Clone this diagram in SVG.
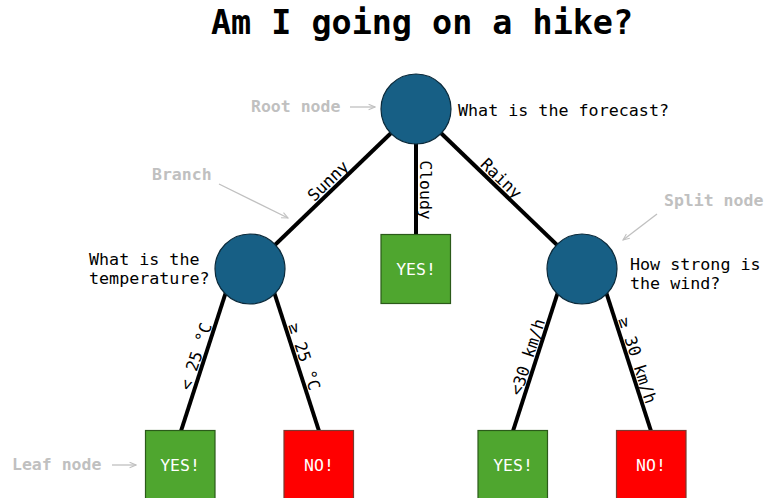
<svg xmlns="http://www.w3.org/2000/svg" width="765" height="498" viewBox="0 0 765 498">
  <style>
    text { font-family: "DejaVu Sans Mono", "Liberation Mono", monospace; }
    .title { font-size: 33.4px; font-weight: bold; fill: #000; }
    .q { font-size: 16.7px; fill: #000; }
    .edge-label { font-size: 16.5px; fill: #000; text-anchor: middle; }
    .note { font-size: 16.5px; font-weight: bold; fill: #c0c0c0; }
    .leaf-text { font-size: 16.5px; fill: #fff; text-anchor: middle; dominant-baseline: central; }
    .edge { stroke: #000; stroke-width: 4; fill: none; }
    .pointer { stroke: #c0c0c0; stroke-width: 1.3; fill: none; marker-end: url(#head); }
    .split { fill: #175f85; stroke: #0b2a3b; stroke-width: 1.2; }
    .yes { fill: #4fa62f; stroke: #2b5a1a; stroke-width: 1.2; }
    .no { fill: #ff0000; stroke: #7a3a30; stroke-width: 1.2; }
  </style>
  <defs>
    <marker id="head" viewBox="0 0 10 10" refX="9" refY="5" markerWidth="8" markerHeight="8" markerUnits="userSpaceOnUse" orient="auto">
      <path d="M1,1.5 L9,5 L1,8.5" fill="none" stroke="#c0c0c0" stroke-width="1.3"/>
    </marker>
  </defs>

  <rect width="765" height="498" fill="#fff"/>

  <text class="title" x="422" y="34" text-anchor="middle">Am I going on a hike?</text>

  <!-- connectors (lower branches start inside the split circles) -->
  <g id="connectors">
    <line class="edge" x1="416" y1="109" x2="250" y2="269"/>
    <line class="edge" x1="416" y1="109" x2="416" y2="235"/>
    <line class="edge" x1="416" y1="109" x2="582" y2="269"/>
    <line class="edge" x1="236.3" y1="260" x2="181" y2="431"/>
    <line class="edge" x1="263.7" y1="260" x2="319" y2="431"/>
    <line class="edge" x1="568.3" y1="260" x2="513" y2="431"/>
    <line class="edge" x1="595.7" y1="260" x2="651" y2="431"/>

    <text class="edge-label" transform="translate(332,185) rotate(-43.95)">Sunny</text>
    <text class="edge-label" transform="translate(420,190) rotate(90)">Cloudy</text>
    <text class="edge-label" transform="translate(497.3,182.6) rotate(43.95)">Rainy</text>
    <text class="edge-label" transform="translate(201.2,358.2) rotate(-71.97)">&lt; 25 °C</text>
    <text class="edge-label" transform="translate(298.9,358.4) rotate(71.97)">≥ 25 °C</text>
    <text class="edge-label" transform="translate(533.1,358.8) rotate(-71.97)">&lt;30 km/h</text>
    <text class="edge-label" transform="translate(632,362.1) rotate(71.97)">≥ 30 km/h</text>
  </g>

  <!-- decision nodes -->
  <g id="root">
    <circle class="split" cx="416" cy="109" r="35"/>
    <text class="q" x="458" y="116">What is the forecast?</text>
  </g>
  <g id="temperature">
    <circle class="split" cx="250" cy="269" r="35"/>
    <text class="q" x="89" y="265">What is the</text>
    <text class="q" x="89" y="284">temperature?</text>
  </g>
  <g id="wind">
    <circle class="split" cx="582" cy="269" r="35"/>
    <text class="q" x="630" y="270">How strong is</text>
    <text class="q" x="630" y="289">the wind?</text>
  </g>

  <!-- leaves -->
  <g id="leaf-cloudy">
    <rect class="yes" x="381" y="234.5" width="69.5" height="69"/>
    <text class="leaf-text" x="416" y="269">YES!</text>
  </g>
  <g id="leaf-cool">
    <rect class="yes" x="145.5" y="430.5" width="69.5" height="69"/>
    <text class="leaf-text" x="180" y="465">YES!</text>
  </g>
  <g id="leaf-hot">
    <rect class="no" x="284" y="430.5" width="69.5" height="69"/>
    <text class="leaf-text" x="319" y="465">NO!</text>
  </g>
  <g id="leaf-calm">
    <rect class="yes" x="478" y="430.5" width="69.5" height="69"/>
    <text class="leaf-text" x="513" y="465">YES!</text>
  </g>
  <g id="leaf-windy">
    <rect class="no" x="616.5" y="430.5" width="69.5" height="69"/>
    <text class="leaf-text" x="651" y="465">NO!</text>
  </g>

  <!-- annotations -->
  <g id="annotations">
    <text class="note" x="251" y="112">Root node</text>
    <line class="pointer" x1="350" y1="107" x2="375" y2="107"/>
    <text class="note" x="152" y="180">Branch</text>
    <line class="pointer" x1="219" y1="184" x2="288" y2="218"/>
    <text class="note" x="664" y="206">Split node</text>
    <line class="pointer" x1="657" y1="214" x2="623" y2="240"/>
    <text class="note" x="12" y="470">Leaf node</text>
    <line class="pointer" x1="112" y1="465" x2="136" y2="465"/>
  </g>
</svg>
